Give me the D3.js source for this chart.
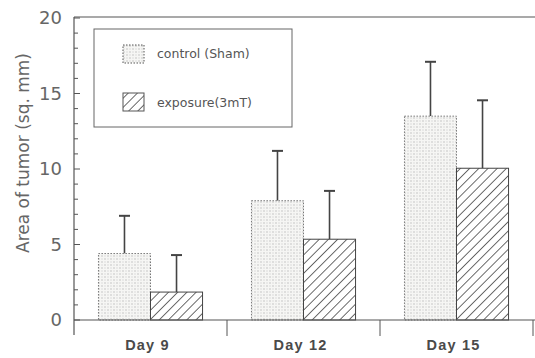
<!DOCTYPE html>
<html>
<head>
<meta charset="utf-8">
<script src="https://cdn.jsdelivr.net/npm/d3@7"></script>
<style>
  html, body { margin: 0; padding: 0; background: #fff; }
  svg { display: block; }
  text { font-family: "Liberation Sans", Arial, sans-serif; }
  .light { font-family: "DejaVu Sans", sans-serif; font-weight: normal; }
</style>
</head>
<body>
<svg id="chart" width="535" height="358"></svg>
<script>
// Tumour area by day, sham control vs 3 mT exposure (mean with upper SD bar)
const days = ["Day 9", "Day 12", "Day 15"];
const seriesNames = ["control (Sham)", "exposure(3mT)"];
const controlMean = [4.4, 7.9, 13.5];
const controlErr = [6.9, 11.2, 17.1];
const exposureMean = [1.85, 5.35, 10.05];
const exposureErr = [4.3, 8.55, 14.55];
const yTicks = [0, 5, 10, 15, 20];
const yMinorTicks = d3.range(0, 21, 1);

const svg = d3.select("#chart");
const plotLeft = 74, plotRight = 533, plotTop = 18, plotBottom = 320;

const x = d3.scaleBand().domain(days).range([plotLeft, plotRight]).paddingInner(0).paddingOuter(0);
const xs = d3.scaleBand().domain(seriesNames).range([0, x.bandwidth()])
  .paddingInner(0).paddingOuter(0.47);
const y = d3.scaleLinear().domain([0, 20]).range([plotBottom, plotTop]);

// fill patterns: stipple for control, diagonal hatch for exposure
const defs = svg.append("defs");
const dots = defs.append("pattern").attr("id", "dots")
  .attr("patternUnits", "userSpaceOnUse").attr("width", 6).attr("height", 6);
dots.append("rect").attr("width", 6).attr("height", 6).attr("fill", "#f6f6f4");
[[0.5, 0.5], [3.5, 3.5], [3.5, 0.5], [0.5, 3.5]].forEach(([cx, cy], i) => {
  dots.append("rect").attr("x", cx).attr("y", cy).attr("width", 1).attr("height", 1)
    .attr("fill", i < 2 ? "#999" : "#c4c4c4");
});
const hatch = defs.append("pattern").attr("id", "hatch")
  .attr("patternUnits", "userSpaceOnUse").attr("width", 6.5).attr("height", 6.5)
  .attr("patternTransform", "rotate(45)");
hatch.append("rect").attr("width", 6.5).attr("height", 6.5).attr("fill", "#fff");
hatch.append("line").attr("x1", 0).attr("y1", 0).attr("x2", 0).attr("y2", 6.5)
  .attr("stroke", "#3a3a3a").attr("stroke-width", 1.5);

const rows = days.map((d, i) => ({
  day: d,
  values: [
    { name: seriesNames[0], mean: controlMean[i], err: controlErr[i] },
    { name: seriesNames[1], mean: exposureMean[i], err: exposureErr[i] }
  ]
}));

const fills = { [seriesNames[0]]: "url(#dots)", [seriesNames[1]]: "url(#hatch)" };

const groups = svg.append("g").selectAll("g").data(rows).join("g")
  .attr("transform", d => `translate(${x(d.day)},0)`);

// error bars drawn first so the bar tops cover their lower end
groups.selectAll("g.err").data(d => d.values).join("g").attr("class", "err")
  .each(function (d) {
    const g = d3.select(this);
    const cx = xs(d.name) + xs.bandwidth() / 2;
    g.append("line").attr("x1", cx).attr("x2", cx)
      .attr("y1", y(d.mean)).attr("y2", y(d.err))
      .attr("stroke", "#444").attr("stroke-width", 1.6);
    g.append("line").attr("x1", cx - 5.5).attr("x2", cx + 5.5)
      .attr("y1", y(d.err)).attr("y2", y(d.err))
      .attr("stroke", "#444").attr("stroke-width", 2);
  });

groups.selectAll("rect").data(d => d.values).join("rect")
  .attr("x", d => xs(d.name))
  .attr("width", xs.bandwidth())
  .attr("y", d => y(d.mean))
  .attr("height", d => y(0) - y(d.mean))
  .attr("fill", d => fills[d.name])
  .attr("stroke", d => d.name === seriesNames[0] ? "#777" : "#444")
  .attr("stroke-width", 1)
  .attr("stroke-dasharray", d => d.name === seriesNames[0] ? "1.5,1.5" : null);

// frame: top line, left axis, baseline
const axisColor = "#555";
svg.append("line").attr("x1", plotLeft).attr("x2", 535).attr("y1", plotTop - 1).attr("y2", plotTop - 1)
  .attr("stroke", axisColor).attr("stroke-width", 1.2);
svg.append("line").attr("x1", plotLeft).attr("x2", plotLeft).attr("y1", plotTop - 1).attr("y2", 335)
  .attr("stroke", axisColor).attr("stroke-width", 1.2);
svg.append("line").attr("x1", plotLeft).attr("x2", 535).attr("y1", y(0)).attr("y2", y(0))
  .attr("stroke", axisColor).attr("stroke-width", 1.2);

// y ticks point into the plot
svg.append("g").selectAll("line").data(yMinorTicks).join("line")
  .attr("x1", plotLeft).attr("x2", d => plotLeft + (d % 5 === 0 ? 6 : 4))
  .attr("y1", d => y(d)).attr("y2", d => y(d))
  .attr("stroke", axisColor).attr("stroke-width", 1);
svg.append("g").selectAll("text").data(yTicks).join("text")
  .attr("class", "light")
  .attr("x", 62).attr("y", d => y(d)).attr("dy", "0.36em")
  .attr("text-anchor", "end").attr("font-size", 18).attr("fill", "#666")
  .text(d => d);

// category separators below the baseline
const seps = days.map(d => x(d) + x.bandwidth());
svg.append("g").selectAll("line").data(seps).join("line")
  .attr("x1", d => d).attr("x2", d => d).attr("y1", y(0)).attr("y2", 336)
  .attr("stroke", axisColor).attr("stroke-width", 1);
svg.append("g").selectAll("text").data(days).join("text")
  .attr("x", d => x(d) + x.bandwidth() / 2 - 3).attr("y", 350)
  .attr("text-anchor", "middle").attr("font-size", 14.5).attr("font-weight", "bold")
  .attr("letter-spacing", 1.2)
  .attr("fill", "#4a4a4a").text(d => d);

// y-axis title
svg.append("text")
  .attr("class", "light")
  .attr("transform", "translate(29,153) rotate(-90)")
  .attr("text-anchor", "middle").attr("font-size", 17).attr("fill", "#666")
  .text("Area of tumor (sq. mm)");

// legend
const lg = svg.append("g");
lg.append("rect").attr("x", 94).attr("y", 29).attr("width", 198).attr("height", 98)
  .attr("fill", "#fff").attr("stroke", "#666").attr("stroke-width", 1);
const lgY = [45, 93];
const lgBase = [57.5, 107];
seriesNames.forEach((n, i) => {
  lg.append("rect").attr("x", 123).attr("y", lgY[i]).attr("width", 21).attr("height", 18)
    .attr("fill", fills[n]).attr("stroke", "#555").attr("stroke-width", 1)
    .attr("stroke-dasharray", i === 0 ? "1.5,1.5" : null);
  lg.append("text").attr("class", "light").attr("x", 157).attr("y", lgBase[i])
    .attr("font-size", 12.5).attr("fill", "#555").text(n);
});
</script>
</body>
</html>
